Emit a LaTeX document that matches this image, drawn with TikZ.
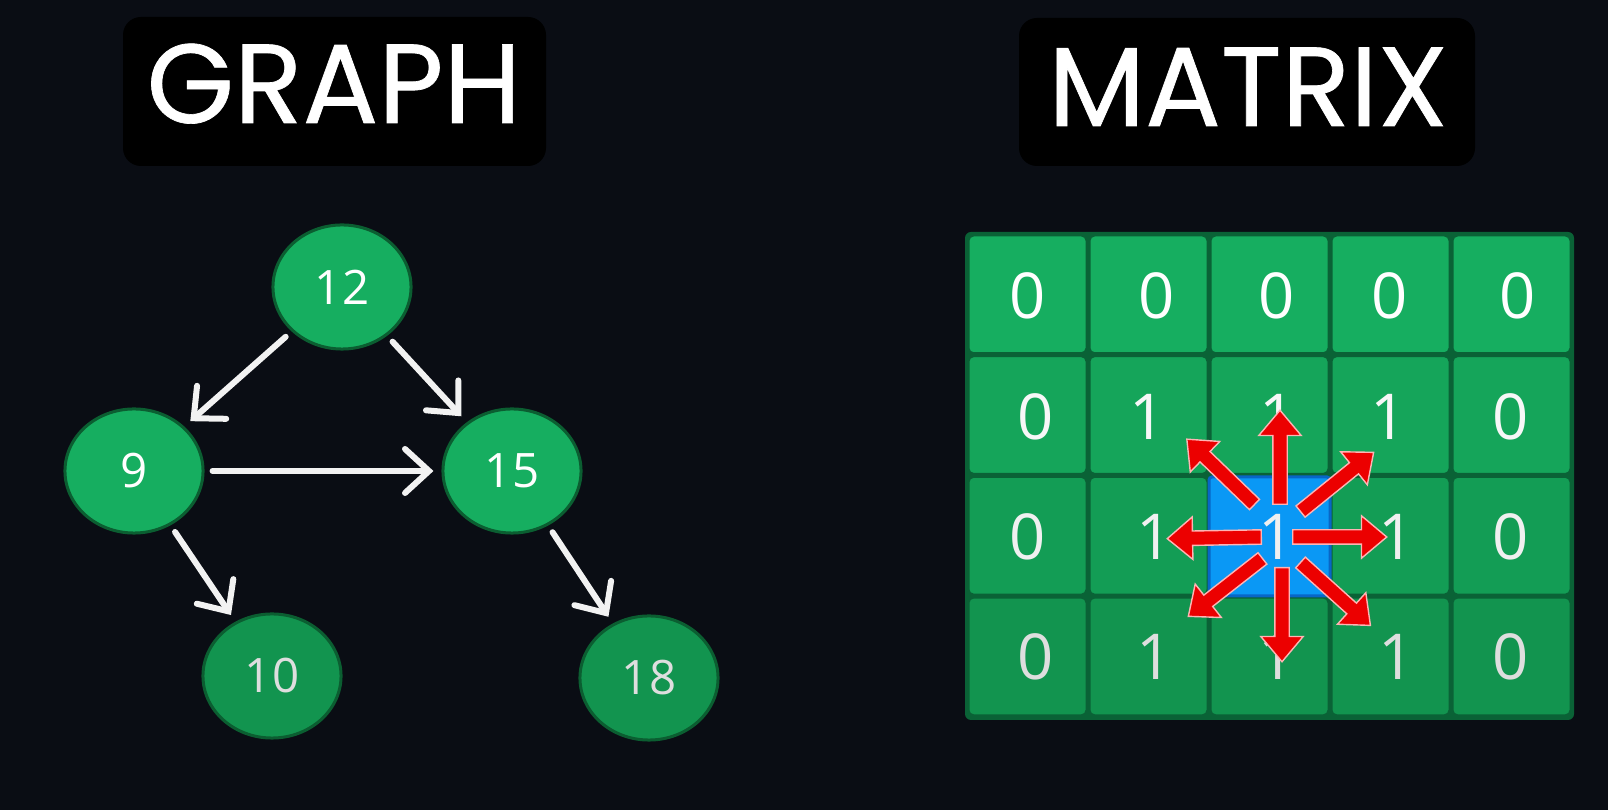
\documentclass[tikz,border=0pt]{standalone}
\usepackage{fontspec}
\newfontfamily\titlefont{Poppins}[FakeBold=0.6]
\newfontfamily\numfont{Open Sans}
\usetikzlibrary{shapes.geometric, shapes.arrows, arrows.meta, positioning, calc}

\definecolor{bgdark}{HTML}{0A0D14}
\definecolor{nodegreen}{HTML}{16AE60}
\definecolor{nodegreenlow}{HTML}{12944F}
\definecolor{greenrim}{HTML}{0B5E31}
\definecolor{cellrim}{HTML}{0A6236}
\definecolor{cellblue}{HTML}{0A98F5}
\definecolor{bluerim}{HTML}{0866C6}
\definecolor{arrred}{HTML}{EC0000}
\definecolor{arrrim}{HTML}{FFB4B4}

\begin{document}
\begin{tikzpicture}[x=0.01cm, y=-0.01cm,
	titlebox/.style={fill=black, rounded corners=0.18cm},
	titletext/.style={text=white, font=\titlefont\fontsize{32pt}{38pt}\selectfont, anchor=base, inner sep=0pt},
	vertex/.style={ellipse, fill=nodegreen, draw=greenrim, line width=0.03cm, minimum width=1.38cm, minimum height=1.24cm, inner sep=0pt, text=white, font=\numfont\fontsize{13.5pt}{16pt}\selectfont},
	lowvertex/.style={vertex, fill=nodegreenlow, text=white!87!black},
	link/.style={draw=white!95!black, line width=0.06cm, line cap=round, shorten <=0.08cm, shorten >=0.08cm, -{Straight Barb[length=0.24cm, width=0.44cm, line cap=round]}},
	cell/.style={draw=cellrim, line width=0.02cm, rounded corners=0.05cm},
	digit/.style={font=\numfont\fontsize{18pt}{20pt}\selectfont, inner sep=0pt},
	redarr/.style={single arrow, fill=arrred, draw=arrrim, line width=0.4pt, minimum height=0.94cm, inner xsep=0pt, inner ysep=0.065cm, single arrow head extend=0.14cm, single arrow tip angle=80}]
			\fill[bgdark] (0,0) rectangle (1608,810);
			\useasboundingbox (0,0) rectangle (1608,810);
			
			% Titel
			\fill[titlebox] (123,17) rectangle (546,166);
			\node[titletext] (graphtitle) at (334,123) {GRAPH};
			\fill[titlebox] (1019,18) rectangle (1475,166);
			\node[titletext] (matrixtitle) at (1248,126) {MATRIX};
			
			% Graph
			\node[vertex] (n12) at (342,287) {12};
			\node[vertex] (n9) at (134,471) {9};
			\node[vertex] (n15) at (512,471) {15};
			\node[lowvertex] (n10) at (272,676) {10};
			\node[lowvertex] (n18) at (649,678) {18};
			\draw[link] (n12) -- (n9);
			\draw[link] (n12) -- (n15);
			\draw[link] (n9) -- (n15);
			\draw[link] (n9) -- (n10);
			\draw[link] (n15) -- (n18);
			
			% Matrix
			\fill[cellrim, rounded corners=0.06cm] (965,232) rectangle (1574,720);
			\foreach \r in {0,...,3}{
				\foreach \c in {0,...,4}{
					\pgfmathtruncatemacro\pct{33*\r}
					\path[cell, fill=nodegreenlow!\pct!nodegreen] (967+121*\c+1.5, 234+120.7*\r+1.5) rectangle ++(118,117.7);
				}
			}
			\path[fill=cellblue, draw=bluerim, line width=0.03cm, rounded corners=0.03cm] (1209,477) rectangle (1330,596);
			\foreach \x/\y/\v/\t [count=\i] in {1028/296/0/100, 1157/296/0/100, 1277/296/0/100, 1390/296/0/100, 1518/296/0/100,
				1036/417/0/97, 1148/417/1/97, 1278/417/1/97, 1389/417/1/97, 1511/417/0/97,
				1028/537/0/94, 1155/537/1/94, 1277/537/1/94, 1397/537/1/94, 1511/537/0/94,
				1036/657/0/87, 1155/657/1/87, 1277/657/1/87, 1397/657/1/87, 1511/657/0/87}
				\node[digit, text=white!\t!black] (d\i) at (\x,\y) {\v};
			
			% Pfeile zu den Nachbarn
			\coordinate (hub) at (1278,537);
			\foreach \a/\dx/\dy [count=\i] in {90/2/-32, 0/14/0, 181/-16/0, 270/4/30, 136/-23/-32, 39/22/-25, 218/-15/21, 318/22/25}
				\node[redarr, rotate=\a, anchor=tail] (ray\i) at ($(hub)+(\dx,\dy)$) {};
		\end{tikzpicture}
\end{document}
